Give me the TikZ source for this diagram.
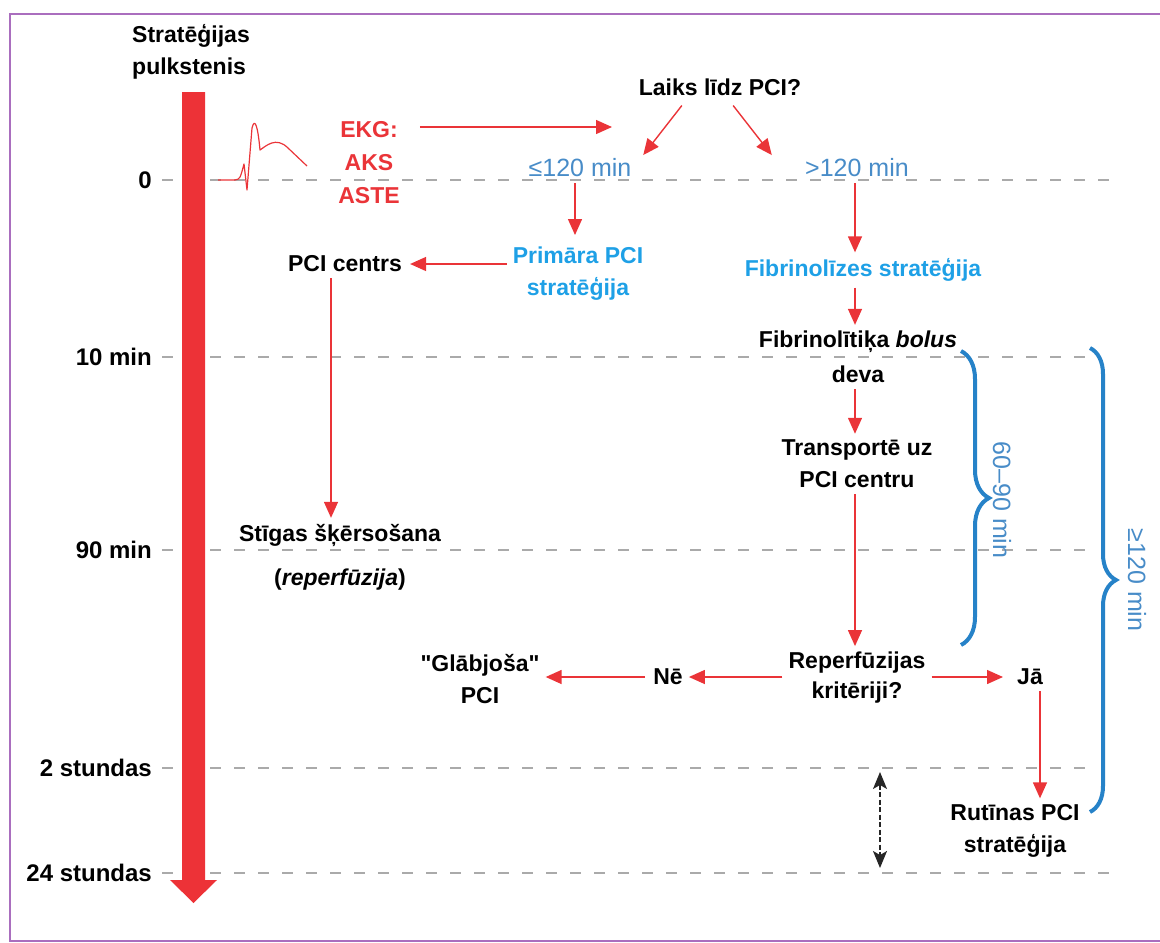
\documentclass[tikz,border=0pt]{standalone}
\usepackage{fontspec}
\setmainfont{Liberation Sans}
\newfontfamily\quotefont{Liberation Sans}
\usetikzlibrary{arrows.meta,decorations.pathreplacing}

\definecolor{flowred}{RGB}{234,52,56}
\definecolor{barred}{RGB}{237,50,55}
\definecolor{stratblue}{RGB}{30,160,230}
\definecolor{minblue}{RGB}{72,140,200}
\definecolor{braceblue}{RGB}{38,130,200}
\definecolor{gridgray}{RGB}{170,170,170}
\definecolor{framepurple}{RGB}{170,110,190}

\newcommand{\sq}{{\quotefont\bfseries"}}

\tikzset{
  txt/.style={font=\fontsize{23}{32}\selectfont\bfseries, align=center, inner sep=2pt},
  strat/.style={txt, text=stratblue},
  mins/.style={font=\fontsize{25}{28}\selectfont, text=minblue, inner sep=2pt},
  tick/.style={txt, font=\fontsize{24}{28}\selectfont\bfseries, anchor=east},
  flow/.style={draw=flowred, line width=1.4pt, -{Triangle[length=16pt,width=14pt]},
    shorten <=4pt, shorten >=4pt},
  grid/.style={gridgray, line width=1.5pt, dash pattern=on 11pt off 13pt},
  span/.style={braceblue, line width=4pt, decorate, decoration={brace,amplitude=#1}},
}

\begin{document}
\begin{tikzpicture}[x=1pt,y=-1pt]
  \useasboundingbox (0,0) rectangle (1160,943);
  \draw[framepurple, line width=2pt] (10,14) rectangle (1180,941);

  % time scale
  \node[txt, align=left, anchor=north west] (clock) at (130,22) {Stratēģijas\\pulkstenis};
  \foreach \y/\t in {180/0, 357/10 min, 550/90 min, 768/2 stundas, 873/24 stundas}
    \node[tick] (t\y) at (154,\y) {\t};
  \foreach \y/\e in {180/1110, 357/1090, 550/1090, 768/1090, 873/1110}
    \draw[grid] (162,\y) -- (\e,\y);
  \fill[barred] (182,92) -- (205,92) -- (205,880) -- (217,880) -- (193.5,903)
    -- (170,880) -- (182,880) -- cycle;

  % ecg trace
  \draw[flowred, line width=1.2pt, line join=round]
    (218,180) -- (235,180) .. controls (240,179) .. (244,164) -- (247,190)
    -- (252,128) .. controls (255,116) and (258,128) .. (260,150)
    .. controls (266,146) and (276,136) .. (288,148) -- (307,166);

  \node[txt, text=flowred, font=\fontsize{23}{33}\selectfont\bfseries] (EKG) at (369,163) {EKG:\\AKS\\ASTE};
  \node[txt] (Laiks) at (720,87) {Laiks līdz PCI?};
  \node[mins] (Le) at (580,168) {≤120 min};
  \node[mins] (Gt) at (857,168) {>120 min};
  \node[strat] (PPCI) at (578,274) {Primāra PCI\\stratēģija};
  \node[txt] (PCIc) at (345,264) {PCI centrs};
  \node[strat] (FS) at (863,270) {Fibrinolīzes stratēģija};
  \node[txt] (Cross) at (340,557) {Stīgas šķērsošana\\[12pt](\textit{reperfūzija})};
  \node[txt, font=\fontsize{23}{35}\selectfont\bfseries] (Bolus) at (858,357) {Fibrinolītiķa \textit{bolus}\\deva};
  \node[txt] (Transp) at (857,464) {Transportē uz\\PCI centru};
  \node[txt, font=\fontsize{23}{30}\selectfont\bfseries] (Crit) at (857,678) {Reperfūzijas\\kritēriji?};
  \node[txt] (Ne) at (668,677) {Nē};
  \node[txt] (Gl) at (480,679) {\sq Glābjoša\sq\\PCI};
  \node[txt] (Ja) at (1030,677) {Jā};
  \node[txt] (Rut) at (1015,831) {Rutīnas PCI\\stratēģija};

  \coordinate (intoLaiks) at (612,127);
  \coordinate (h2) at (880,772);
  \coordinate (h24) at (880,868);

  \draw[flow, shorten <=18pt, shorten >=0pt] (EKG.east |- intoLaiks) -- (intoLaiks);
  \path
    ([xshift=-32pt]Laiks.south) edge[flow, shorten <=10pt, shorten >=2pt] ([xshift=62pt]Le.north)
    ([xshift=7pt]Laiks.south) edge[flow, shorten <=10pt, shorten >=2pt] ([xshift=-84pt]Gt.north)
    ([xshift=-5pt]Le.south) edge[flow, shorten >=10pt] ([xshift=-3pt]PPCI.north)
    ([xshift=-2pt]Gt.south) edge[flow] ([xshift=-8pt]FS.north)
    (PPCI.west |- PCIc) edge[flow, shorten <=4pt, shorten >=6pt] (PCIc.east)
    ([xshift=-14pt]PCIc.south) edge[flow] ([xshift=-14pt]PCIc.south |- Cross.north)
    ([xshift=-8pt]FS.south) edge[flow] ([xshift=-3pt]Bolus.north)
    ([xshift=-3pt]Bolus.south) edge[flow] ([xshift=-2pt]Transp.north)
    ([xshift=-2pt]Transp.south) edge[flow] ([xshift=-2pt]Crit.north)
    (Crit.west |- Ne) edge[flow, shorten <=4pt] (Ne.east)
    (Ne.west) edge[flow, shorten <=6pt] (Gl.east |- Ne)
    (Crit.east |- Ja) edge[flow, shorten <=4pt, shorten >=12pt] (Ja.west)
    ([xshift=10pt]Ja.south) edge[flow] ([xshift=10pt]Ja.south |- Rut.north);
  \draw[dash pattern=on 5pt off 2.5pt, line width=1.5pt, draw=black!85,
    {Stealth[length=17pt,width=14pt,inset=4pt]}-{Stealth[length=17pt,width=14pt,inset=4pt]}] (h2) -- (h24);

  % time spans
  \draw[span=28pt] (961,351) -- (961,645);
  \node[mins, rotate=-90] (s6090) at (1002,500) {60–90 min};
  \draw[span=26pt] (1090,348) -- (1090,812);
  \node[mins, rotate=-90] (s120) at (1137,580) {≥120 min};
\end{tikzpicture}
\end{document}
